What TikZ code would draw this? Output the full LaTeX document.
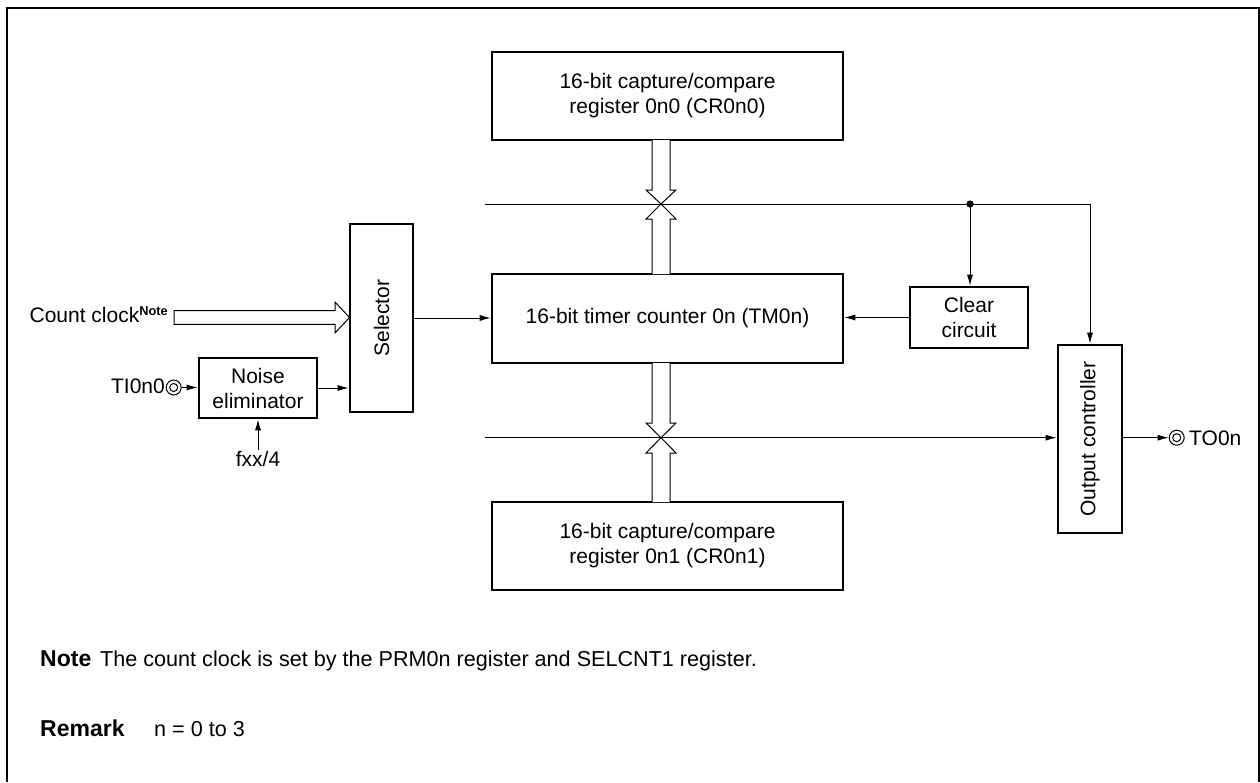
\documentclass[tikz,border=0pt]{standalone}
\usepackage{fontspec}
\setmainfont{Liberation Sans}
\usetikzlibrary{arrows.meta}
\tikzset{
  blk/.style={draw, line width=2.6pt, align=center, inner sep=0pt},
  sig/.style={line width=1pt, -{Latex[length=11pt,width=6pt]}},
  wire/.style={line width=1pt},
  bus/.style={line width=1pt, fill=white},
  pin/.style={circle, draw, line width=1pt, minimum size=15pt, inner sep=0pt},
  txt/.style={inner sep=0pt},
  notefont/.style={font=\fontsize{21.6}{26}\selectfont},
  headfont/.style={font=\fontsize{23}{27}\selectfont\bfseries},
}
\begin{document}
\begin{tikzpicture}[x=1pt, y=-1pt, font=\fontsize{21}{25}\selectfont]
\useasboundingbox (0,0) rectangle (1260,782);
% frame
\draw[line width=2pt] (7,782) -- (7,8) -- (1258.5,8) -- (1258.5,782);

% blocks
\node[blk, minimum width=351pt, minimum height=88pt] (reg0) at (667.5,96) {16-bit capture/compare\\register 0n0 (CR0n0)};
\node[blk, minimum width=351pt, minimum height=89pt] (tm) at (667.5,318.5) {16-bit timer counter 0n (TM0n)};
\node[blk, minimum width=351pt, minimum height=88pt] (reg1) at (667.5,546) {16-bit capture/compare\\register 0n1 (CR0n1)};
\node[blk, minimum width=63pt, minimum height=188pt] (sel) at (381.5,318) {};
\node[rotate=90] (seltxt) at (sel.center) {Selector};
\node[blk, minimum width=118pt, minimum height=60pt] (noise) at (258,388) {Noise\\eliminator};
\node[blk, minimum width=118pt, minimum height=61pt] (clr) at (969,317.5) {Clear\\circuit};
\node[blk, minimum width=64pt, minimum height=188pt] (outc) at (1090,439) {};
\node[rotate=90] (outtxt) at (outc.center) {Output controller};

% bus lines
\coordinate (upl) at (485,204);
\coordinate (dot) at (970,204);
\coordinate (upr) at (1090,204);
\coordinate (lowl) at (485,437.7);
\draw[wire] (upl) -- (dot);
\draw[wire] (dot) -- (upr);
\draw[sig] (upr) -- (upr |- outc.north);
\draw[sig] (dot) -- (dot |- clr.north);
\fill (dot) circle (3.6pt);
\draw[sig] (lowl) -- (lowl -| outc.west);

% hollow bus arrows (upper)
\draw[bus] (652,140) -- (652,190) -- (646,190) -- (661,204) -- (676,190) -- (670,190) -- (670,140);
\draw[bus] (652,274) -- (652,219) -- (646,219) -- (661,204) -- (676,219) -- (670,219) -- (670,274);
% hollow bus arrows (lower)
\draw[bus] (652,363) -- (652,423) -- (646,423) -- (661,437.7) -- (676,423) -- (670,423) -- (670,363);
\draw[bus] (652,502) -- (652,453) -- (646,453) -- (661,437.7) -- (676,453) -- (670,453) -- (670,502);

% signals
\draw[sig] (sel.east) -- (sel.east -| tm.west);
\draw[sig] (clr.west) -- (clr.west -| tm.east);
\draw[sig] (noise.east) -- (noise.east -| sel.west);

% count clock
\node[txt, anchor=base east] (cc) at (168,322) {Count clock\raisebox{7pt}{\fontsize{12.8}{13}\selectfont\bfseries Note}};
\draw[bus] (174,310.7) -- (335,310.7) -- (335,302) -- (349.5,317.5) -- (335,333) -- (335,324.3) -- (174,324.3) -- cycle;

% TI0n0
\node[pin] (ti) at (173.7,387.5) {};
\draw[line width=1pt] (ti.center) circle (4pt);
\node[txt, anchor=base east] (titxt) at (165,393.5) {TI0n0};
\draw[sig] (ti.east) -- (ti.east -| noise.west);

% fxx/4
\node[txt, anchor=base] (fxx) at (258,466.5) {fxx/4};
\coordinate (fxin) at (258,450);
\draw[sig] (fxin) -- (noise.south);

% TO0n
\node[pin] (to) at (1176.7,437.7) {};
\draw[line width=1pt] (to.center) circle (4pt);
\node[txt, anchor=base west] (totxt) at (1189,445) {TO0n};
\draw[sig] (outc.east |- to.west) -- (to.west);

% notes
\node[txt, headfont, anchor=base west] (note) at (40,666.5) {Note};
\node[txt, notefont, anchor=base west] (notetxt) at (100,666.5) {The count clock is set by the PRM0n register and SELCNT1 register.};
\node[txt, headfont, anchor=base west] (rem) at (40,736.5) {Remark};
\node[txt, notefont, anchor=base west] (remtxt) at (154,736.5) {n = 0 to 3};
\end{tikzpicture}
\end{document}
